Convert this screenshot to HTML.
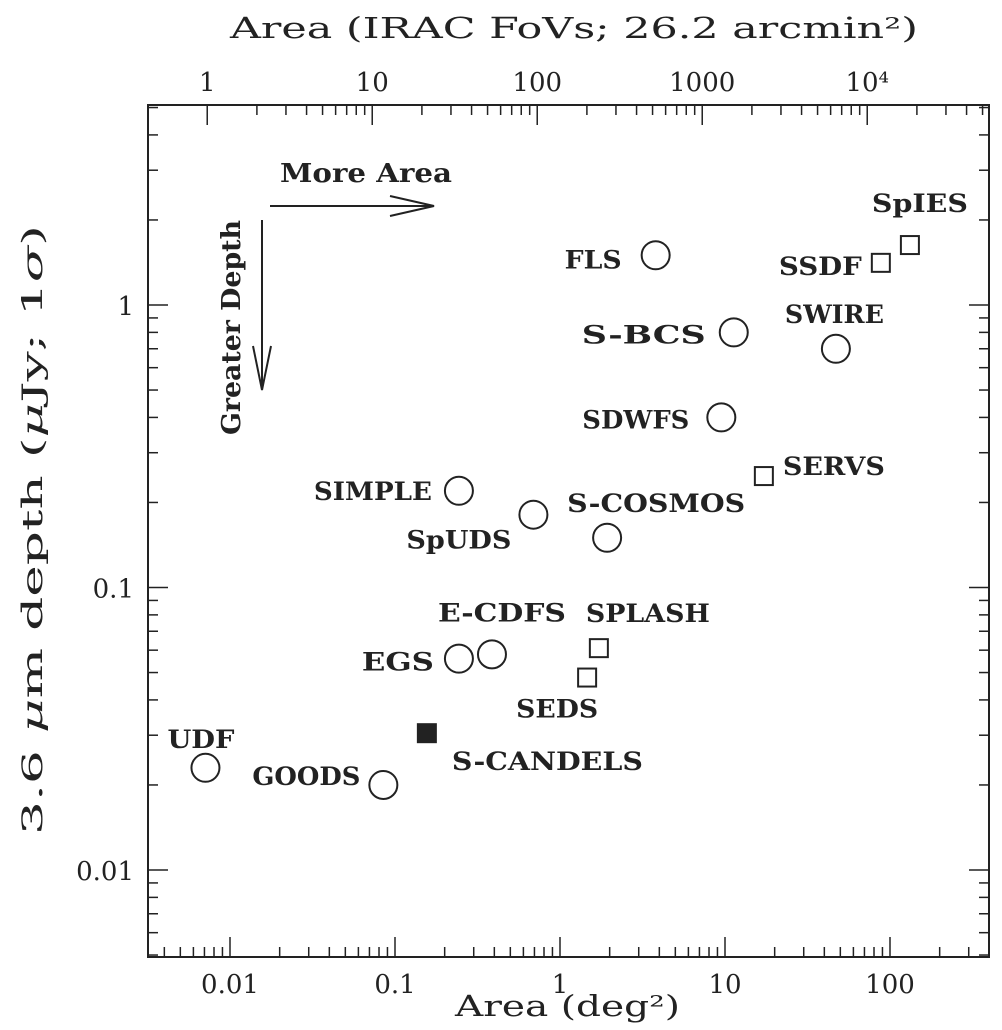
<!DOCTYPE html>
<html><head><meta charset="utf-8"><style>
html,body{margin:0;padding:0;background:#fff}
svg{display:block}
text{font-family:"DejaVu Serif","Liberation Serif",serif;fill:#222}
</style></head><body>
<svg id="chart" width="1002" height="1030" viewBox="0 0 1002 1030" xmlns="http://www.w3.org/2000/svg">
<rect x="148" y="105" width="841" height="852" fill="none" stroke="#222" stroke-width="2"/>
<g id="ticks"></g>
<g id="marks"></g>
<text x="455" y="1016" font-size="29" textLength="225" lengthAdjust="spacingAndGlyphs">Area (deg²)</text>
<text x="230" y="38" font-size="29" textLength="688" lengthAdjust="spacingAndGlyphs">Area (IRAC FoVs; 26.2 arcmin²)</text>
<text transform="translate(42,835) rotate(-90)" font-size="28" textLength="610" lengthAdjust="spacingAndGlyphs">3.6 <tspan font-style="italic">μ</tspan>m depth (<tspan font-style="italic">μ</tspan>Jy; 1<tspan font-style="italic">σ</tspan>)</text>
<g>
<text x="280" y="182" font-size="26" font-weight="bold" textLength="172" lengthAdjust="spacingAndGlyphs">More Area</text>
<line x1="270" y1="206" x2="434" y2="206" stroke="#222" stroke-width="2"/>
<polyline points="390,196 434,206 390,216" fill="none" stroke="#222" stroke-width="2"/>
</g>
<g>
<text transform="translate(240,435) rotate(-90)" font-size="26" font-weight="bold" textLength="215" lengthAdjust="spacingAndGlyphs">Greater Depth</text>
<line x1="262" y1="220" x2="262" y2="390" stroke="#222" stroke-width="2"/>
<polyline points="253,346 262,390 271,346" fill="none" stroke="#222" stroke-width="2"/>
</g>
</svg>
<script>
const names = ["UDF","GOODS","S-CANDELS","EGS","E-CDFS","SEDS","SPLASH","SIMPLE","SpUDS","S-COSMOS","SDWFS","S-BCS","FLS","SERVS","SWIRE","SSDF","SpIES"];
const areas = [0.0071,0.085,0.156,0.244,0.387,1.46,1.72,0.244,0.69,1.93,9.5,11.3,3.8,17.2,47,88,132];
const depths = [0.023,0.020,0.0305,0.056,0.058,0.048,0.061,0.22,0.181,0.15,0.40,0.80,1.50,0.248,0.70,1.41,1.63];
const shapes = ["o","o","S","o","o","s","s","o","o","o","o","o","o","s","o","s","s"];
const labelDx = [-38,-131,25,-97,-54,-71,-13,-145,-127,-40,-139,-152,-91,19,-51,-102,-38];
const labelDy = [-20,0,37,12,-33,40,-26,9,34,-26,11,11,13,-1,-26,12,-33];
const labelW = [67,108,191,72,128,82,124,118,105,178,107,124,57,102,99,83,96];
const xTickLabels = ["0.01","0.1","1","10","100"];
const xTickVals = [0.01,0.1,1,10,100];
const yTickLabels = ["0.01","0.1","1"];
const yTickVals = [0.01,0.1,1];
const fovTickLabels = ["1","10","100","1000","10⁴"];
const fovTickVals = [1,10,100,1000,10000];
const FOV = 26.2/3600;

const x = v => 560 + 165*Math.log10(v);
const y = v => 305 - 282.5*Math.log10(v);
const NS = "http://www.w3.org/2000/svg";
function mk(tag, attrs, parent){const e=document.createElementNS(NS,tag);for(const k in attrs)e.setAttribute(k,attrs[k]);parent.appendChild(e);return e;}
const T = document.getElementById('ticks');
const M = document.getElementById('marks');
const L=148,R=989,TOP=105,B=957;
for(let d=-3; d<=2; d++){for(let m=1;m<=9;m++){const v=m*Math.pow(10,d);const px=x(v);if(px<L||px>R)continue;const len=m===1?20:10;
 const t=mk('line',{x1:px,y1:B,x2:px,y2:B-len,stroke:'#222','stroke-width':1.5},T);
 
 }}
xTickVals.forEach((v,i)=>{const t=mk('text',{x:x(v),y:B+36,'font-size':26,'text-anchor':'middle'},T);t.textContent=xTickLabels[i];
 
 });
for(let d=0; d<=5; d++){for(let m=1;m<=9;m++){const v=m*Math.pow(10,d);const px=x(v*FOV);if(px<L||px>R)continue;const len=m===1?20:10;
 const t=mk('line',{x1:px,y1:TOP,x2:px,y2:TOP+len,stroke:'#222','stroke-width':1.5},T);
 
 }}
fovTickVals.forEach((v,i)=>{const t=mk('text',{x:x(v*FOV),y:TOP-14,'font-size':26,'text-anchor':'middle'},T);t.textContent=fovTickLabels[i];
 
 });
for(let d=-3; d<=0; d++){for(let m=1;m<=9;m++){const v=m*Math.pow(10,d);const py=y(v);if(py<TOP||py>B)continue;const len=m===1?20:10;
 const a=mk('line',{x1:L,y1:py,x2:L+len,y2:py,stroke:'#222','stroke-width':1.5},T);
 
 
 const b=mk('line',{x1:R,y1:py,x2:R-len,y2:py,stroke:'#222','stroke-width':1.5},T);
 
 }}
yTickVals.forEach((v,i)=>{const t=mk('text',{x:L-14,y:y(v)+10,'font-size':26,'text-anchor':'end'},T);t.textContent=yTickLabels[i];
 
 });
names.forEach((n,i)=>{const px=x(areas[i]),py=y(depths[i]);let e;
 if(shapes[i]==='o'){e=mk('circle',{cx:px,cy:py,r:14,fill:'none',stroke:'#222','stroke-width':2},M);}
 else {e=mk('rect',{x:px-9,y:py-9,width:18,height:18,fill:shapes[i]==='S'?'#222':'none',stroke:'#222','stroke-width':2},M);}
 
 
 const t=mk('text',{x:px+labelDx[i],y:py+labelDy[i],'font-size':25,'font-weight':'bold',textLength:labelW[i],lengthAdjust:'spacingAndGlyphs'},M);
 t.textContent=n;
 
 
});
</script>
</body></html>
